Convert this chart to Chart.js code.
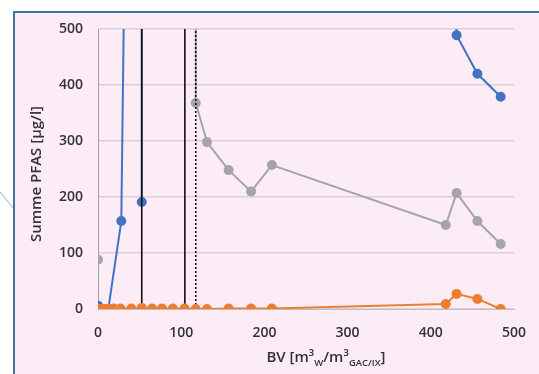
<!DOCTYPE html>
<html>
<head>
<meta charset="utf-8">
<script src="https://cdn.jsdelivr.net/npm/chart.js@4/dist/chart.umd.min.js"></script>
<style>
html,body{margin:0;padding:0;background:#fff;}
canvas{display:block;}
</style>
</head>
<body>
<canvas id="c" width="539" height="374"></canvas>
<script>
// BV values (x) and Summe PFAS (y) per series; values > 500 are off-scale
const grayX   = [0, 0, 0, 117.5, 117.5, 131, 157, 184, 209, 418, 431, 456, 484];
const grayY   = [3, 88, 2000, 2000, 368, 298, 248, 210, 257, 150, 207, 157, 116];
const blueX   = [0, 13, 28, 35, 52.6, 52.6, 52.6, 429, 431, 456, 484];
const blueY   = [6, 6, 157, 1000, 1500, 191, 1500, 560, 489, 420, 379];
const orangeX = [0, 3, 6, 9, 13, 19, 27, 40, 52.6, 65, 77, 90, 104, 117.5, 131, 157, 184, 209, 418, 431, 456, 484];
const orangeY = [0, 0, 0, 0, 0, 1, 1, 1, 2, 1, 1, 1, 1, 0, 0, 1, 1, 1, 9, 27, 18, 0];
const solidLinesX = [52.6, 104.4];
const dashedLinesX = [117.5];
const yTicks = [0, 100, 200, 300, 400, 500];
const xTicks = [0, 100, 200, 300, 400, 500];
const yTitle = "Summe PFAS [µg/l]";
const xTitleParts = [["BV [m³", 0], ["W", 1], ["/m³", 0], ["GAC/IX", 1], ["]", 0]];

const pts = (xs, ys) => xs.map((x, i) => ({x: x, y: ys[i]}));
const radii = (ys, hideIdx) => ys.map((y, i) => (y > 500 || hideIdx.includes(i)) ? 0 : 4);

const FONT = "'Open Sans', 'Noto Sans', sans-serif";
const TXT = '#333333';

const vLineSets = [];
solidLinesX.forEach(x => vLineSets.push({
  data: [{x: x, y: 0}, {x: x, y: 500}], borderColor: '#111111', borderWidth: 1.6,
  pointRadius: 0, showLine: true, order: 2
}));
dashedLinesX.forEach(x => vLineSets.push({
  data: [{x: x, y: 0}, {x: x, y: 500}], borderColor: '#111111', borderWidth: 1.6,
  borderDash: [2, 2], pointRadius: 0, showLine: true, order: 2
}));

const deco = {
  id: 'deco',
  beforeDraw(chart) {
    const ctx = chart.ctx;
    ctx.save();
    ctx.fillStyle = '#ffffff';
    ctx.fillRect(0, 0, 539, 374);
    ctx.fillStyle = '#fcecf6';
    ctx.fillRect(13, 11, 526, 363);
    ctx.strokeStyle = '#41719c';
    ctx.lineWidth = 2;
    ctx.beginPath();
    ctx.moveTo(14, 374); ctx.lineTo(14, 12); ctx.lineTo(539, 12);
    ctx.stroke();
    ctx.strokeStyle = '#8fb0d0';
    ctx.lineWidth = 1;
    ctx.beginPath();
    ctx.moveTo(0, 192); ctx.lineTo(13, 208);
    ctx.stroke();
    ctx.restore();
  },
  afterDraw(chart) {
    const ctx = chart.ctx;
    ctx.save();
    ctx.fillStyle = TXT;
    // y title
    ctx.translate(37, 174);
    ctx.rotate(-Math.PI / 2);
    ctx.font = "600 15px " + FONT;
    ctx.textAlign = 'center';
    ctx.textBaseline = 'middle';
    ctx.fillText(yTitle, 0, 0);
    ctx.restore();
    // x title with subscripts
    ctx.save();
    ctx.fillStyle = TXT;
    ctx.textBaseline = 'alphabetic';
    ctx.textAlign = 'left';
    const big = "600 15px " + FONT, small = "600 9.5px " + FONT;
    let total = 0;
    xTitleParts.forEach(([t, s]) => { ctx.font = s ? small : big; total += ctx.measureText(t).width; });
    let x = 326 - total / 2;
    xTitleParts.forEach(([t, s]) => {
      ctx.font = s ? small : big;
      ctx.fillText(t, x, s ? 366 : 362);
      x += ctx.measureText(t).width;
    });
    ctx.restore();
  }
};

new Chart(document.getElementById('c'), {
  type: 'scatter',
  data: {
    datasets: [
      { data: pts(grayX, grayY), borderColor: '#a5a5a5', backgroundColor: '#a5a5a5',
        borderWidth: 2, pointRadius: radii(grayY, [0]), pointHoverRadius: 0, showLine: true, order: 5 },
      { data: pts(blueX, blueY), borderColor: '#4472c4', backgroundColor: '#4472c4',
        borderWidth: 2, pointRadius: radii(blueY, [1, 6]), showLine: true, order: 4 },
      ...vLineSets,
      { data: pts(orangeX, orangeY), borderColor: '#ed7d31', backgroundColor: '#ed7d31',
        borderWidth: 2, pointRadius: 4, showLine: true, order: 1 }
    ]
  },
  options: {
    responsive: false,
    animation: false,
    devicePixelRatio: 1,
    layout: { padding: { left: 13, right: 25, top: 29, bottom: 0 } },
    plugins: { legend: { display: false }, tooltip: { enabled: false } },
    scales: {
      x: {
        type: 'linear', min: 0, max: 500,
        afterFit(s) { s.height = 65; s.paddingLeft = 0; s.paddingRight = 0; },
        afterBuildTicks(s) { s.ticks = xTicks.map(v => ({value: v})); },
        grid: { display: false, drawTicks: false },
        border: { display: true, color: '#bfbfbf', width: 1 },
        ticks: { padding: 16, color: TXT, font: { family: FONT, size: 14, weight: '600' } }
      },
      y: {
        type: 'linear', min: 0, max: 500,
        afterFit(s) { s.width = 85; s.paddingTop = 0; s.paddingBottom = 0; },
        afterBuildTicks(s) { s.ticks = yTicks.map(v => ({value: v})); },
        grid: { color: '#dccfd8', lineWidth: 1.5, drawTicks: false },
        border: { display: false },
        ticks: { padding: 15, color: TXT, font: { family: FONT, size: 14, weight: '600' } }
      }
    }
  },
  plugins: [deco]
});
</script>
</body>
</html>
